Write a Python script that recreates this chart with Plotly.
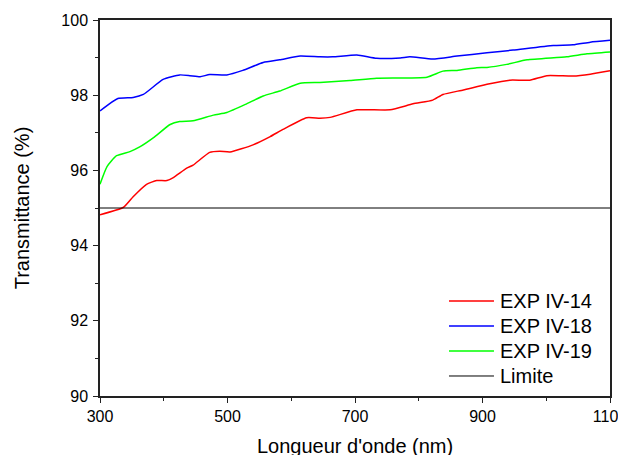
import plotly.graph_objects as go

# Data
wl_14 = [300, 337, 352, 373, 389, 405, 415, 436, 446, 472, 488, 504, 540, 567, 587, 624, 645, 661, 703, 755, 791, 822, 838, 870, 907, 943, 974, 1001, 1042, 1069, 1100]
t_14 = [94.82, 95.02, 95.30, 95.63, 95.73, 95.73, 95.81, 96.06, 96.14, 96.48, 96.51, 96.49, 96.68, 96.90, 97.09, 97.40, 97.39, 97.41, 97.61, 97.61, 97.77, 97.87, 98.02, 98.14, 98.29, 98.40, 98.40, 98.52, 98.51, 98.56, 98.65]

wl_18 = [300, 328, 352, 368, 399, 425, 441, 457, 472, 499, 524, 556, 582, 614, 645, 665, 703, 734, 771, 786, 822, 860, 907, 948, 1011, 1042, 1069, 1100]
t_18 = [97.58, 97.91, 97.94, 98.02, 98.42, 98.54, 98.52, 98.49, 98.55, 98.54, 98.66, 98.87, 98.94, 99.04, 99.02, 99.02, 99.07, 98.98, 98.99, 99.02, 98.96, 99.04, 99.13, 99.20, 99.32, 99.34, 99.41, 99.46]

wl_19 = [300, 311, 326, 347, 363, 384, 410, 425, 446, 478, 499, 530, 556, 582, 614, 645, 692, 734, 813, 838, 860, 891, 907, 938, 970, 1032, 1064, 1100]
t_19 = [95.63, 96.10, 96.39, 96.50, 96.63, 96.87, 97.22, 97.30, 97.32, 97.47, 97.54, 97.77, 97.98, 98.11, 98.32, 98.34, 98.39, 98.45, 98.48, 98.64, 98.66, 98.73, 98.74, 98.82, 98.94, 99.02, 99.10, 99.15]

wl_limit = [300, 1100]
t_limit = [95, 95]

series_names = ["EXP IV-14", "EXP IV-18", "EXP IV-19", "Limite"]
series_colors = ["#FF0000", "#0000FF", "#00FF00", "#000000"]

x_ticks = [300, 500, 700, 900, 1100]
y_ticks = [90, 92, 94, 96, 98, 100]

x_title = "Longueur d'onde (nm)"
y_title = "Transmittance (%)"

FONT = "Liberation Sans, Arial, sans-serif"

fig = go.Figure()
data = [(wl_14, t_14), (wl_18, t_18), (wl_19, t_19)]
for (xs, ys), name, col in zip(data, series_names[:3], series_colors[:3]):
    fig.add_trace(go.Scatter(x=xs, y=ys, mode="lines", name=name, showlegend=False,
                             line=dict(color=col, width=1.5, shape="spline", smoothing=0.5)))
fig.add_trace(go.Scatter(x=wl_limit, y=t_limit, mode="lines", name=series_names[3],
                         showlegend=False, line=dict(color=series_colors[3], width=1)))

# Legend drawn in paper coordinates (bottom-right box)
leg_y = [0.2527, 0.1862, 0.1197, 0.0532]
for name, col, yy, w in zip(series_names, series_colors, leg_y, [1.5, 1.5, 1.5, 1]):
    fig.add_shape(type="line", xref="paper", yref="paper", x0=0.6843, x1=0.7725, y0=yy, y1=yy,
                  line=dict(color=col, width=w))
    fig.add_annotation(xref="paper", yref="paper", x=0.7804, y=yy, text=name, showarrow=False,
                       xanchor="left", yanchor="middle",
                       font=dict(family=FONT, size=20, color="#000000"))

# x-axis title as annotation so it can sit low near the bottom edge like the reference
fig.add_annotation(xref="paper", yref="paper", x=0.5, y=0, yshift=-37, text=x_title,
                   showarrow=False, xanchor="center", yanchor="top",
                   font=dict(family=FONT, size=20, color="#000000"))

axis_common = dict(showgrid=False, zeroline=False, showline=True, linecolor="#222222",
                   linewidth=1.5, mirror=True, ticks="outside", ticklen=5, tickwidth=1.2,
                   tickcolor="#222222", automargin=False, ticklabeloverflow="allow",
                   tickfont=dict(family=FONT, size=16, color="#000000"))

fig.update_layout(
    width=618, height=447,
    margin=dict(l=92, r=16, t=12, b=59),
    paper_bgcolor="white", plot_bgcolor="white",
    font=dict(family=FONT, color="#000000"),
    showlegend=False,
    xaxis=dict(range=[300, 1100], tickvals=x_ticks, ticktext=[str(v) for v in x_ticks],
               minor=dict(dtick=100, tick0=300, ticklen=3, ticks="outside", tickcolor="#222222"),
               **axis_common),
    yaxis=dict(range=[90, 100], tickvals=y_ticks, ticktext=[str(v) for v in y_ticks],
               ticklabelstandoff=2,
               minor=dict(dtick=1, tick0=90, ticklen=3, ticks="outside", tickcolor="#222222"),
               title=dict(text=y_title, font=dict(family=FONT, size=20), standoff=26),
               **axis_common),
)

fig.write_html("out.html")
